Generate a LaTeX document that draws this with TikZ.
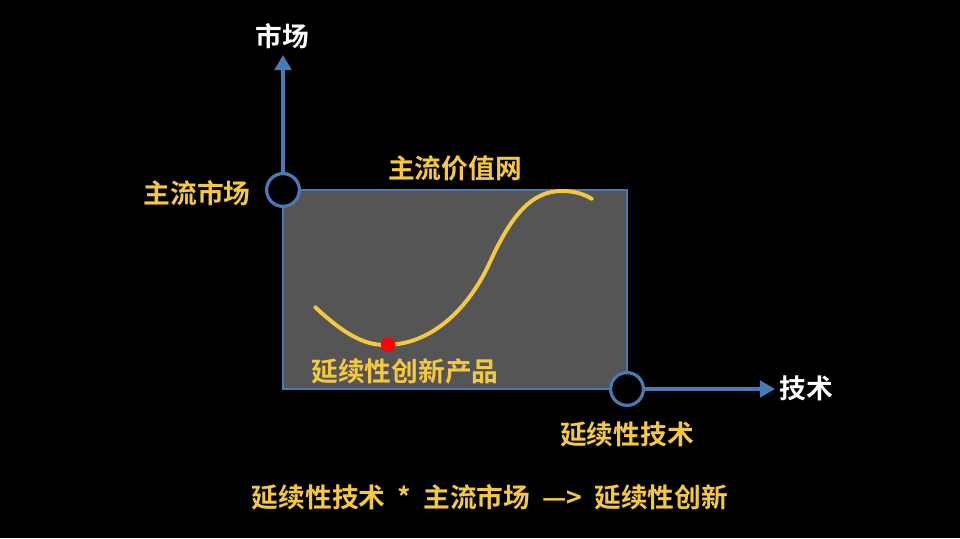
\documentclass[tikz,border=0pt]{standalone}
\usepackage{fontspec}
\usepackage{tikz}
\usepackage{xcolor}
\usetikzlibrary{positioning, arrows.meta}
\setmainfont{Noto Sans CJK SC}[BoldFont={Noto Sans CJK SC Bold}]
\definecolor{vnyellow}{RGB}{245, 200, 66}
\definecolor{vnblue}{RGB}{74, 122, 181}
\definecolor{vngray}{RGB}{85, 85, 85}

\begin{document}
\begin{tikzpicture}
\fill[black] (0,0) rectangle (24,13.45);
\useasboundingbox (0,0) rectangle (24,13.45);
\tikzset{
  lbl/.style={font=\fontsize{19}{22}\selectfont\bfseries, text=vnyellow, inner sep=0pt},
  axlbl/.style={font=\fontsize{19}{22}\selectfont\bfseries, text=white, inner sep=0pt},
  knot/.style={circle, draw=vnblue, line width=2.3pt, fill=black, minimum size=0.82cm, inner sep=0pt},
  axis/.style={draw=vnblue, line width=2.2pt, -{Triangle[width=0.42cm, length=0.38cm]}}
}
% value network box
\draw[vnblue, line width=2pt, fill=vngray] (7.075,3.725) rectangle (15.675,8.7);
% s-curve
\draw[vnyellow, line width=2.8pt, line cap=round]
  (7.875,5.775) .. controls (8.6,5.1) and (9.1,4.825) .. (9.625,4.825)
  .. controls (10.9,4.825) and (11.8,5.9) .. (12.25,6.9)
  .. controls (12.8,8.1) and (13.3,8.675) .. (14.05,8.675)
  .. controls (14.35,8.675) and (14.6,8.6) .. (14.8,8.475);
\node[circle, fill=red, minimum size=0.36cm, inner sep=0pt] (prod) at (9.7,4.83) {};
% axes
\node[knot] (mkt) at (7.075,8.7) {};
\node[knot] (tech) at (15.675,3.725) {};
\coordinate (ytop) at (7.075,12.075);
\coordinate (xend) at (19.375,3.725);
\draw[axis] (mkt) -- (ytop);
\draw[axis] (tech) -- (xend);
\node[axlbl] (ylbl) at (7.05,12.55) {市场};
\node[axlbl] (xlbl) at (20.15,3.75) {技术};
% labels
\node[lbl] (mktlbl) at (4.925,8.625) {主流市场};
\node[lbl] (netlbl) at (11.375,9.25) {主流价值网};
\node[lbl] (prodlbl) at (10.125,4.175) {延续性创新产品};
\node[lbl] (techlbl) at (15.675,2.6) {延续性技术};
\node[lbl] (formula) at (12.25,1.025) {延续性技术 \ * \ 主流市场 \ —> \ 延续性创新};
\end{tikzpicture}
\end{document}
